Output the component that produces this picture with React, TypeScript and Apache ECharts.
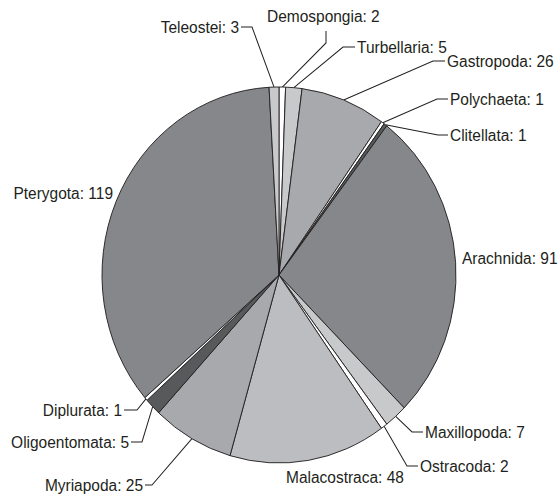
import React, { useEffect, useRef } from "react";
import * as echarts from "echarts";

// ---- data ----
const categories = [
  "Demospongia",
  "Turbellaria",
  "Gastropoda",
  "Polychaeta",
  "Clitellata",
  "Arachnida",
  "Maxillopoda",
  "Ostracoda",
  "Malacostraca",
  "Myriapoda",
  "Oligoentomata",
  "Diplurata",
  "Pterygota",
  "Teleostei",
];
const counts = [2, 5, 26, 1, 1, 91, 7, 2, 48, 25, 5, 1, 119, 3];

// ---- styles ----
const sliceColors = [
  "#ffffff",
  "#c8c9cb",
  "#a8a9ac",
  "#ffffff",
  "#58595b",
  "#86878a",
  "#c8c9cb",
  "#ffffff",
  "#bcbdc0",
  "#a8a9ac",
  "#58595b",
  "#ffffff",
  "#86878a",
  "#c8c9cb",
];

// ---- layout (page pixels) ----
const SCALE_Y = 188 / 177; // the reference pie is slightly taller than wide
const CX = 279;
const CY_PAGE = 275;
const R = 177;
const CHART_W = 560;
const CHART_H = 495 / SCALE_Y;

type LabelPos = {
  x: number;
  y: number;
  align: "left" | "right";
  elbow?: [number, number];
  end?: [number, number];
};
const labelPositions: LabelPos[] = [
  { x: 267, y: 16, align: "left", elbow: [326, 43], end: [326, 31] },
  { x: 357, y: 47, align: "left", elbow: [343, 47], end: [355, 47] },
  { x: 447, y: 61, align: "left", elbow: [433, 61], end: [445, 61] },
  { x: 450, y: 99, align: "left", elbow: [437, 99], end: [448, 99] },
  { x: 450, y: 135, align: "left", elbow: [438, 135], end: [448, 135] },
  { x: 462, y: 258, align: "left" },
  { x: 425, y: 432, align: "left", elbow: [412, 432], end: [423, 432] },
  { x: 420, y: 466, align: "left", elbow: [407, 466], end: [418, 466] },
  { x: 286, y: 477, align: "left" },
  { x: 143, y: 485, align: "right", elbow: [152, 485], end: [145, 485] },
  { x: 129, y: 442, align: "right", elbow: [142, 442], end: [131, 442] },
  { x: 122, y: 410, align: "right", elbow: [137, 410], end: [124, 410] },
  { x: 113, y: 193, align: "right" },
  { x: 239, y: 27, align: "right", elbow: [252, 27], end: [241, 27] },
];

export default function App() {
  const ref = useRef<HTMLDivElement>(null);

  useEffect(() => {
    if (!ref.current) return;
    const chart = echarts.init(ref.current, null, { renderer: "svg" });
    const total = counts.reduce((a, b) => a + b, 0);
    const cyChart = CY_PAGE / SCALE_Y;

    // mid-angle of every slice, measured clockwise from 12 o'clock
    const midAngles: number[] = [];
    let acc = 0;
    counts.forEach((v) => {
      midAngles.push(((acc + v / 2) / total) * Math.PI * 2);
      acc += v;
    });

    const data = categories.map((name, i) => {
      const lp = labelPositions[i];
      return {
        name,
        value: counts[i],
        itemStyle: { color: sliceColors[i] },
        labelLine: { show: !!lp.elbow },
      };
    });

    chart.setOption({
      animation: false,
      backgroundColor: "#ffffff",
      series: [
        {
          type: "pie",
          center: [CX, cyChart],
          radius: R,
          startAngle: 90,
          clockwise: true,
          avoidLabelOverlap: false,
          data,
          itemStyle: { borderColor: "#231f20", borderWidth: 0.9 },
          emphasis: { disabled: true },
          label: {
            show: true,
            position: "outside",
            formatter: "{b}: {c}",
            color: "#231f20",
            fontSize: 15.5,
            fontFamily: "'Liberation Sans', Arial, Helvetica, sans-serif",
          },
          labelLine: {
            show: true,
            length: 10,
            length2: 10,
            smooth: false,
            lineStyle: { color: "#231f20", width: 1 },
          },
          labelLayout: (params: any) => {
            const i = params.dataIndex;
            const lp = labelPositions[i];
            const out: any = {
              x: lp.x,
              y: lp.y / SCALE_Y,
              align: lp.align,
              verticalAlign: "middle",
              hideOverlap: false,
            };
            if (lp.elbow && lp.end) {
              const a = midAngles[i];
              const edge = [CX + R * Math.sin(a), cyChart - R * Math.cos(a)];
              out.labelLinePoints = [
                edge,
                [lp.elbow[0], lp.elbow[1] / SCALE_Y],
                [lp.end[0], lp.end[1] / SCALE_Y],
              ];
            }
            return out;
          },
        },
      ],
    });

    return () => chart.dispose();
  }, []);

  return (
    <div
      ref={ref}
      style={{
        position: "absolute",
        left: 0,
        top: 0,
        width: CHART_W,
        height: CHART_H,
        transform: `scaleY(${SCALE_Y})`,
        transformOrigin: "0 0",
        background: "#ffffff",
      }}
    />
  );
}
